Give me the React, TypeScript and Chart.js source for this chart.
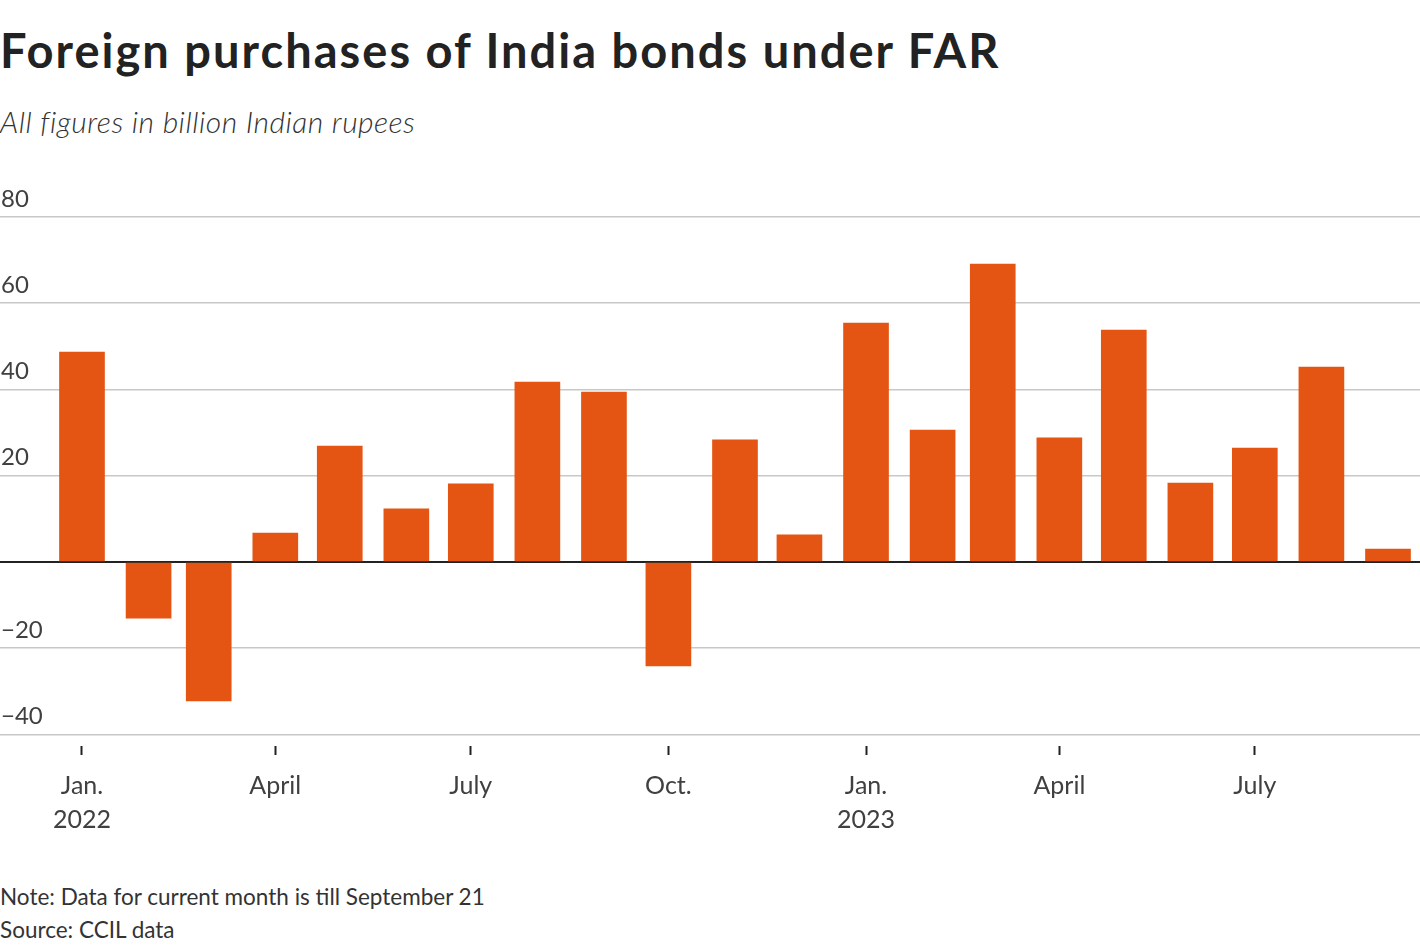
import React, { useEffect, useRef } from "react";
import { Chart, registerables } from "chart.js";

Chart.register(...registerables);

const months = [
  "2022-01", "2022-02", "2022-03", "2022-04", "2022-05", "2022-06",
  "2022-07", "2022-08", "2022-09", "2022-10", "2022-11", "2022-12",
  "2023-01", "2023-02", "2023-03", "2023-04", "2023-05", "2023-06",
  "2023-07", "2023-08", "2023-09",
];
const purchases = [
  48.7, -13.0, -32.2, 6.7, 26.9, 12.3, 18.1, 41.7, 39.4, -24.1, 28.3, 6.3,
  55.4, 30.6, 69.1, 28.8, 53.8, 18.3, 26.4, 45.2, 3.0,
];
const xTickMonths = ["2022-01", "2022-04", "2022-07", "2022-10", "2023-01", "2023-04", "2023-07"];
const xTickLabels = [["Jan.", "2022"], ["April"], ["July"], ["Oct."], ["Jan.", "2023"], ["April"], ["July"]];
const yTicks = [-40, -20, 0, 20, 40, 60, 80];

const FONT = "Lato, 'Source Sans Pro', sans-serif";

const EPOCH = Date.UTC(2022, 0, 1);
const dayOf = (m: string) => {
  const [y, mo] = m.split("-").map(Number);
  return Math.round((Date.UTC(y, mo - 1, 1) - EPOCH) / 86400000);
};
const xTickDays = xTickMonths.map(dayOf);

export default function App() {
  const ref = useRef<HTMLCanvasElement | null>(null);

  useEffect(() => {
    document.body.style.margin = "0";
    const canvas = ref.current;
    if (!canvas) return;
    const chart = new Chart(canvas, {
      type: "bar",
      data: {
        datasets: [
          {
            label: "Foreign purchases",
            data: purchases.map((v, i) => ({ x: dayOf(months[i]), y: v })),
            backgroundColor: "#e45513",
            borderWidth: 0,
            barThickness: 45,
          },
        ],
      },
      options: {
        animation: false,
        responsive: false,
        maintainAspectRatio: false,
        layout: { padding: { top: 37, left: 0, right: 0, bottom: 0 } },
        plugins: { legend: { display: false }, tooltip: { enabled: false }, title: { display: false } },
        scales: {
          x: {
            type: "linear",
            offset: false,
            min: -38.17,
            max: 622.9,
            afterBuildTicks: (scale: any) => {
              scale.ticks = xTickDays.map((v) => ({ value: v }));
            },
            afterFit: (scale: any) => {
              scale.height = 114;
            },
            ticks: {
              autoSkip: false,
              maxRotation: 0,
              padding: 14,
              color: "#404040",
              font: { family: FONT, size: 25, lineHeight: 1.36 },
              callback: (value: any) => {
                const idx = xTickDays.indexOf(Number(value));
                return idx >= 0 ? xTickLabels[idx] : "";
              },
            },
            grid: {
              display: true,
              offset: false,
              drawOnChartArea: false,
              drawTicks: true,
              tickLength: 9,
              tickWidth: 2,
              tickColor: "#222",
            },
            border: { display: false },
          },
          y: {
            min: -42.67,
            max: 80,
            afterBuildTicks: (scale: any) => {
              scale.ticks = yTicks.map((v) => ({ value: v }));
            },
            afterFit: (scale: any) => {
              scale.width = 0;
            },
            ticks: {
              mirror: true,
              padding: 1,
              labelOffset: -18,
              color: "#404040",
              font: { family: FONT, size: 24 },
              callback: (value: any) => {
                const n = Number(value);
                if (n === 0) return "";
                return n < 0 ? "\u2212" + Math.abs(n) : String(n);
              },
            },
            grid: {
              drawTicks: false,
              color: (ctx: any) => (ctx.tick && ctx.tick.value === 0 ? "#222" : "#c8c8c8"),
              lineWidth: (ctx: any) => (ctx.tick && ctx.tick.value === 0 ? 2 : 1.5),
            },
            border: { display: false },
          },
        },
      },
    } as any);
    return () => chart.destroy();
  }, []);

  return (
    <div style={{ position: "absolute", left: 0, top: 0, width: 1420, height: 950, background: "#fff", fontFamily: FONT, color: "#222" }}>
      <div style={{ position: "absolute", left: 0, top: 22, fontSize: 47, fontWeight: 700, letterSpacing: "2.03px", lineHeight: "56px", whiteSpace: "nowrap" }}>
        Foreign purchases of India bonds under FAR
      </div>
      <div style={{ position: "absolute", left: 0, top: 102, fontSize: 30, fontStyle: "italic", fontWeight: 300, color: "#333", letterSpacing: "0.5px", lineHeight: "38px", whiteSpace: "nowrap" }}>
        All figures in billion Indian rupees
      </div>
      <canvas ref={ref} width={1420} height={680} style={{ position: "absolute", left: 0, top: 180, width: 1420, height: 680 }} />
      <div style={{ position: "absolute", left: 0, top: 880, fontSize: 22.5, color: "#333", lineHeight: "33px", whiteSpace: "nowrap" }}>
        <div>Note: Data for current month is till September 21</div>
        <div>Source: CCIL data</div>
      </div>
    </div>
  );
}
